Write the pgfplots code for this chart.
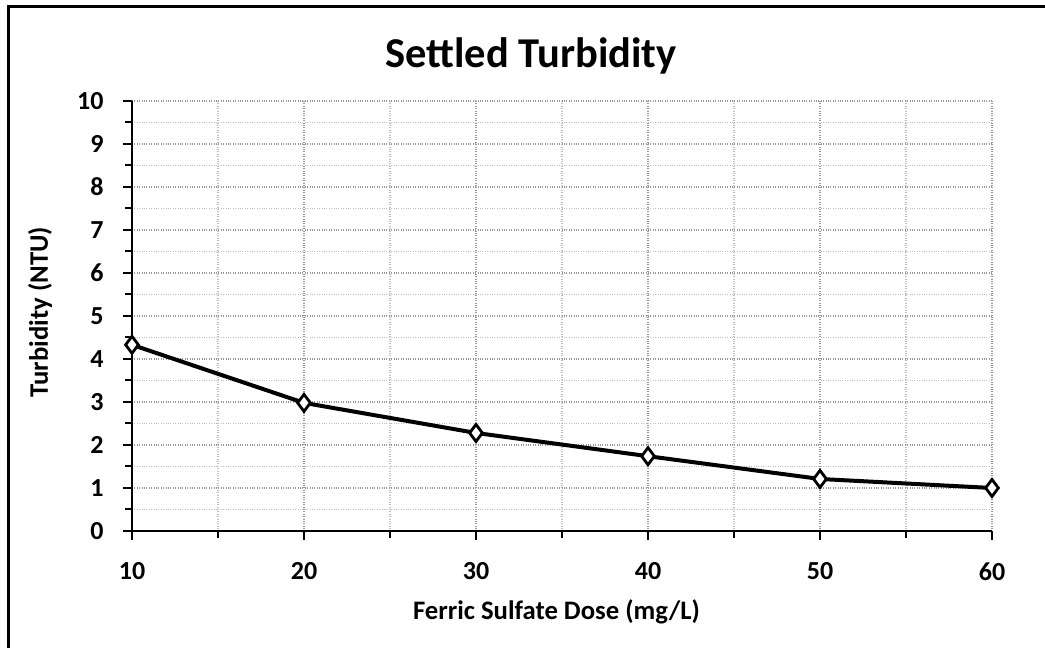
\documentclass[border=0pt]{standalone}
\usepackage{fontspec}
\setmainfont{Carlito}
\usepackage{pgfplots}
\pgfplotsset{compat=1.18}
\begin{document}
\begin{tikzpicture}[x=1pt,y=1pt]
\useasboundingbox (0,0) rectangle (1045,648);
\draw[line width=3pt] (8,0) -- (8,641.5) -- (1045,641.5);
\begin{axis}[
  at={(132pt,117pt)}, anchor=south west,
  scale only axis, width=860pt, height=430pt,
  xmin=10, xmax=60, ymin=0, ymax=10,
  xtick={10,20,...,60}, ytick={0,1,...,10},
  minor x tick num=1, minor y tick num=1,
  axis x line*=bottom, axis y line*=left,
  axis line style={line width=2.5pt, -},
  tick align=outside,
  major tick length=9pt, minor tick length=7pt,
  every tick/.style={black, line width=2pt},
  grid=both,
  major grid style={gray!80, dotted, line width=1.6pt},
  minor grid style={gray!50, dotted, line width=1.6pt},
  /pgf/number format/assume math mode=true,
  ticklabel style={font=\fontsize{26}{31}\selectfont\bfseries},
  xticklabel style={yshift=-19pt},
  yticklabel style={xshift=-16pt},
  title={Settled Turbidity},
  title style={font=\fontsize{42.5}{50}\selectfont\bfseries, at={(axis description cs:0.464,1.064)}, anchor=base},
  xlabel={Ferric Sulfate Dose (mg/L)},
  xlabel style={font=\fontsize{26.7}{32}\selectfont\bfseries, at={(axis description cs:0.4936,-0.205)}, anchor=base},
  ylabel={Turbidity (NTU)},
  ylabel style={font=\fontsize{26.7}{32}\selectfont\bfseries, at={(axis description cs:-0.107,0.509)}, anchor=center, rotate=0},
  clip=false,
]
\addplot[black, line width=4pt, mark=diamond*, mark size=8.5pt,
  mark options={fill=white, draw=black, line width=2.8pt}]
  coordinates {(10,4.33) (20,2.98) (30,2.28) (40,1.74) (50,1.21) (60,1.00)};
\end{axis}
\end{tikzpicture}
\end{document}
